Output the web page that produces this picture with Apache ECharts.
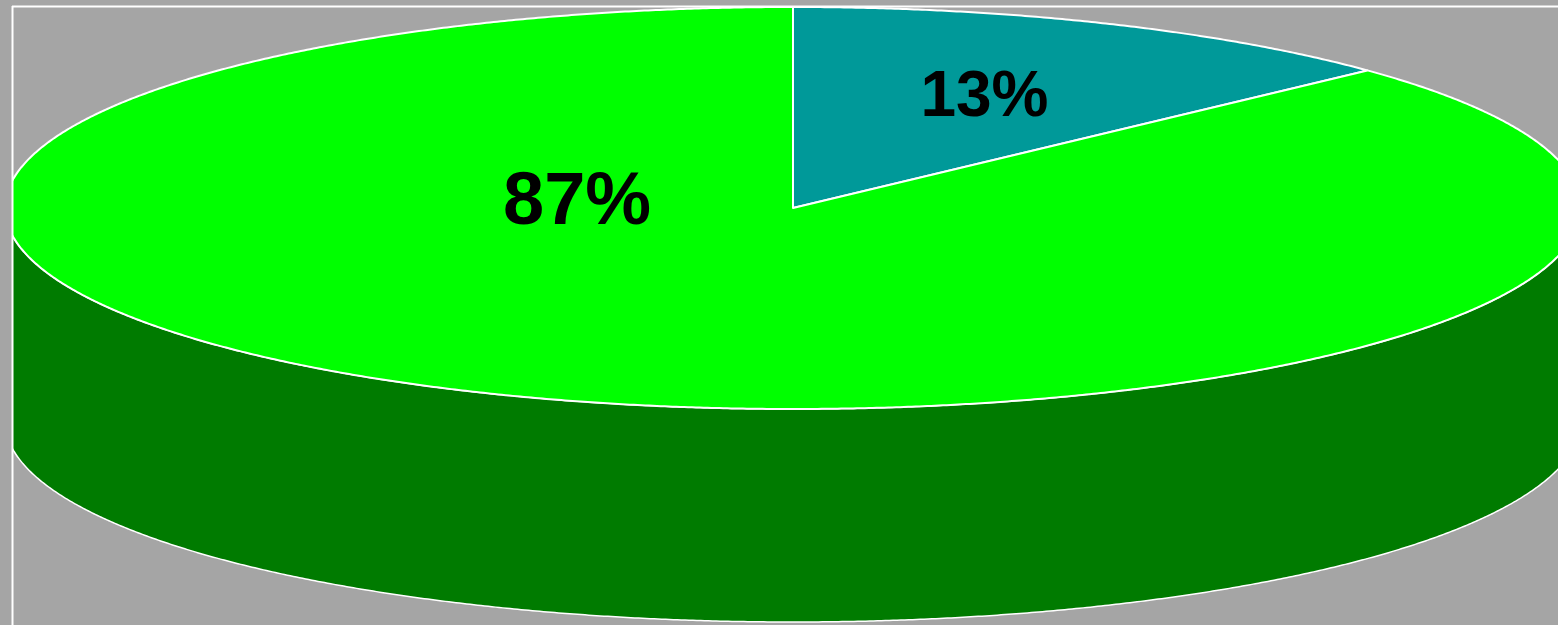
<!DOCTYPE html>
<html>
<head>
<meta charset="utf-8">
<script src="https://cdn.jsdelivr.net/npm/echarts@6/dist/echarts.min.js"></script>
<style>
html,body{margin:0;padding:0;background:#a5a5a5;}
#main{width:1558px;height:625px;}
</style>
</head>
<body>
<div id="main"></div>
<script>
// ---- data ----
var categories = ['A', 'B'];
var values = [13, 87];
var labels = ['13%', '87%'];

// ---- style / layout ----
var topColors = ['#009999', '#00ff00'];
var sideColors = ['#006666', '#007b00'];
var labelSizes = [64, 74];
var labelOffsets = [[0.243, -0.545], [-0.274, -0.02]]; // fractions of rx, ry
var CX = 793, CY = 208, RX = 788, RY = 201, DEPTH = 213;

var total = values.reduce(function (a, b) { return a + b; }, 0);
function startAngle(i) {
  var s = 0;
  for (var k = 0; k < i; k++) s += values[k];
  return s / total * Math.PI * 2;
}
function pt(t, dy) {
  return [CX + RX * Math.sin(t), CY - RY * Math.cos(t) + (dy || 0)];
}
function arcPts(a, b, dy) {
  var pts = [];
  var n = Math.max(2, Math.ceil(Math.abs(b - a) / 0.005));
  for (var j = 0; j <= n; j++) pts.push(pt(a + (b - a) * j / n, dy));
  return pts;
}

var chart = echarts.init(document.getElementById('main'), null, { renderer: 'canvas' });

var dataItems = values.map(function (v, i) { return { name: categories[i], value: v }; });

chart.setOption({
  backgroundColor: '#a5a5a5',
  animation: false,
  series: [
    {
      type: 'custom',
      coordinateSystem: 'none',
      z: 1,
      data: dataItems,
      renderItem: function (params, api) {
        var i = params.dataIndex;
        var a0 = startAngle(i);
        var a1 = a0 + api.value(0) / total * Math.PI * 2;
        var s = Math.max(a0, Math.PI / 2), e = Math.min(a1, Math.PI * 1.5);
        if (e <= s) return null;
        var top = arcPts(s, e, 0);
        var bot = arcPts(e, s, DEPTH);
        return {
          type: 'polygon',
          shape: { points: top.concat(bot) },
          style: { fill: sideColors[i], stroke: '#ffffff', lineWidth: 1.5 }
        };
      }
    },
    {
      type: 'custom',
      coordinateSystem: 'none',
      z: 2,
      data: dataItems,
      renderItem: function (params, api) {
        var i = params.dataIndex;
        var a0 = startAngle(i);
        var a1 = a0 + api.value(0) / total * Math.PI * 2;
        var pts = [[CX, CY]].concat(arcPts(a0, a1, 0));
        return {
          type: 'group',
          children: [
            {
              type: 'polygon',
              shape: { points: pts },
              style: { fill: topColors[i], stroke: '#ffffff', lineWidth: 2, lineJoin: 'round' }
            },
            {
              type: 'text',
              z2: 10,
              style: {
                text: labels[i],
                x: CX + labelOffsets[i][0] * RX,
                y: CY + labelOffsets[i][1] * RY,
                align: 'center',
                verticalAlign: 'middle',
                fill: '#000000',
                font: 'bold ' + labelSizes[i] + 'px "Liberation Sans", Arial, sans-serif'
              }
            }
          ]
        };
      }
    }
  ],
  graphic: [
    { type: 'rect', z: 100, shape: { x: 0, y: 0, width: 12, height: 625 }, style: { fill: '#a5a5a5' } },
    { type: 'rect', z: 100, shape: { x: 0, y: 0, width: 1558, height: 6 }, style: { fill: '#a5a5a5' } },
    { type: 'line', z: 101, shape: { x1: 12, y1: 6.5, x2: 1558, y2: 6.5 }, style: { stroke: '#ffffff', lineWidth: 2 } },
    { type: 'line', z: 101, shape: { x1: 12.5, y1: 6, x2: 12.5, y2: 625 }, style: { stroke: '#ffffff', lineWidth: 2 } }
  ]
});
</script>
</body>
</html>
